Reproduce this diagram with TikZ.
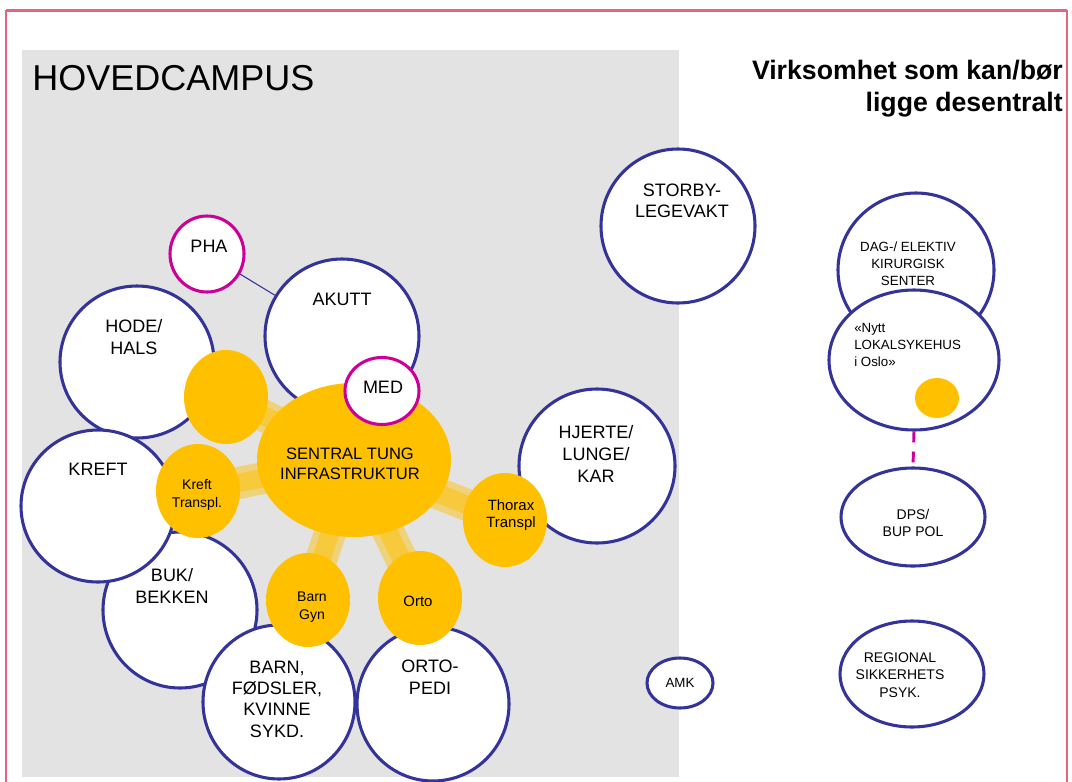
\documentclass[tikz,border=0pt]{standalone}
\usepackage{fontspec}
\setmainfont{Liberation Sans}
\usetikzlibrary{shapes.geometric}
\definecolor{navy}{HTML}{333399}
\definecolor{mag}{HTML}{CC0099}
\definecolor{gul}{HTML}{FFC000}
\definecolor{campus}{HTML}{E3E3E3}
\definecolor{ramme}{HTML}{E8647C}
\tikzset{
  unit/.style={ellipse, draw=navy, line width=2.3pt, fill=white, inner sep=0pt},
  hub/.style={ellipse, draw=mag, line width=2.3pt, fill=white, inner sep=0pt},
  core/.style={ellipse, fill=gul, inner sep=0pt},
  sat/.style={core, minimum width=84*0.75pt, minimum height=94*0.75pt},
  bar/.style={line width=24pt, draw=gul, draw opacity=0.45},
  barcore/.style={line width=14pt, draw=gul, draw opacity=0.5},
  big/.style={align=center, inner sep=0pt, font=\fontsize{13.5}{16.2}\selectfont},
  mid/.style={align=center, inner sep=0pt, font=\fontsize{11.2}{13.2}\selectfont},
  small/.style={align=center, inner sep=0pt, font=\fontsize{10}{12.8}\selectfont},
  link/.style={draw=navy, line width=0.8pt},
  dashlink/.style={draw=mag, line width=2.2pt, dash pattern=on 8.2pt off 6.8pt}
}
\begin{document}
\begin{tikzpicture}[x=0.75pt,y=-0.75pt]

\useasboundingbox (0,0) rectangle (1072,782);
\clip (0,0) rectangle (1072,782);

% outer frame and campus area
\draw[ramme, line width=0.9pt] (6,10.5) rectangle (1067,820);
\draw[ramme, line width=1.8pt] (6,10.5) -- (1067,10.5);
\fill[campus] (22,50) rectangle (679,777);

\node[anchor=west, inner sep=0pt, font=\fontsize{27}{30}\selectfont] (title) at (32,78) {HOVEDCAMPUS};
\node[anchor=north east, align=right, inner sep=0pt, font=\fontsize{20}{24}\bfseries] (subtitle) at (1063,60)
  {Virksomhet som kan/bør\\ligge desentralt};

% decentral units
\node[unit, minimum width=154*0.75pt, minimum height=154*0.75pt] (storby) at (678,226) {};
\node[big] (storbyT) at (682,201) {STORBY-\\LEGEVAKT};

\node[unit, minimum width=156*0.75pt, minimum height=154*0.75pt] (dag) at (916,270) {};
\node[small] (dagT) at (908,264) {DAG-/ ELEKTIV\\KIRURGISK\\SENTER};

\node[unit, minimum width=170*0.75pt, minimum height=140*0.75pt] (nytt) at (914,360) {};
\node[small, align=left, anchor=west] (nyttT) at (854,345) {«Nytt\\LOKALSYKEHUS\\i Oslo»};
\node[core, minimum width=44*0.75pt, minimum height=40*0.75pt] (nyttK) at (937,398) {};

\node[unit, minimum width=144*0.75pt, minimum height=98*0.75pt] (dps) at (913,517) {};
\node[small, font=\fontsize{10.5}{12.8}\selectfont] (dpsT) at (913,523) {DPS/\\BUP POL};
\draw[dashlink] (nytt.south) -- (dps.north);

\node[unit, minimum width=144*0.75pt, minimum height=106*0.75pt] (regional) at (912,674) {};
\node[small, font=\fontsize{10.5}{13.2}\selectfont] (regionalT) at (900,675) {REGIONAL\\SIKKERHETS\\PSYK.};

\node[unit, minimum width=66*0.75pt, minimum height=50*0.75pt] (amk) at (680,683) {};
\node[small] (amkT) at (680,683) {AMK};

% campus units
\node[unit, minimum width=154*0.75pt, minimum height=152*0.75pt] (hode) at (137,362) {};
\node[big] (hodeT) at (134,337) {HODE/\\HALS};

\node[unit, minimum width=154*0.75pt, minimum height=154*0.75pt] (akutt) at (342,336) {};
\node[big] (akuttT) at (342,299) {AKUTT};

\node[unit, minimum width=154*0.75pt, minimum height=156*0.75pt] (buk) at (180,610) {};
\node[big] (bukT) at (172,586) {BUK/\\BEKKEN};

\node[unit, minimum width=154*0.75pt, minimum height=152*0.75pt] (kreft) at (98,506) {};
\node[big] (kreftT) at (98,469) {KREFT};

\node[unit, minimum width=152*0.75pt, minimum height=154*0.75pt] (barn) at (279,702) {};
\node[big, font=\fontsize{13.5}{16}\selectfont] (barnT) at (277,699) {BARN,\\FØDSLER,\\KVINNE\\SYKD.};

\node[unit, minimum width=152*0.75pt, minimum height=154*0.75pt] (ortopedi) at (433,704) {};
\node[big] (ortopediT) at (430,677) {ORTO-\\PEDI};

\node[unit, minimum width=156*0.75pt, minimum height=154*0.75pt] (hjerte) at (597,466) {};
\node[big] (hjerteT) at (596,454) {HJERTE/\\LUNGE/\\KAR};

\node[hub, minimum width=74*0.75pt, minimum height=76*0.75pt] (pha) at (207,254) {};
\node[big] (phaT) at (209,246) {PHA};
\draw[link] (pha) -- (akutt);

% central infrastructure and its satellites
\coordinate (sentralC) at (354,460);
\coordinate (blankC) at (226,397);
\coordinate (kreftC) at (198,491);
\coordinate (barnC) at (308,600);
\coordinate (ortoC) at (420,598);
\coordinate (thoraxC) at (505,520);
\foreach \s in {blankC,kreftC,barnC,ortoC,thoraxC}{
  \draw[bar] (sentralC) -- (\s);
  \draw[barcore] (sentralC) -- (\s);
}

\node[sat] (blank) at (blankC) {};
\node[sat] (kreftTx) at (kreftC) {};
\node[mid, font=\fontsize{10.5}{13.5}\selectfont] (kreftTxT) at (197,495) {Kreft\\Transpl.};
\node[sat] (barngyn) at (barnC) {};
\node[mid, font=\fontsize{10.5}{13}\selectfont] (barngynT) at (312,607) {Barn\\Gyn};
\node[sat] (orto) at (ortoC) {};
\node[mid] (ortoT) at (418,601) {Orto};
\node[sat] (thorax) at (thoraxC) {};
\node[mid] (thoraxT) at (511,515) {Thorax\\Transpl};

\node[core, minimum width=194*0.75pt, minimum height=154*0.75pt] (sentral) at (sentralC) {};
\node[mid, font=\fontsize{12.4}{15}\selectfont] (sentralT) at (350,464) {SENTRAL TUNG\\INFRASTRUKTUR};

\node[hub, minimum width=74*0.75pt, minimum height=67*0.75pt] (med) at (382,391) {};
\node[big] (medT) at (383,387) {MED};

\end{tikzpicture}
\end{document}
